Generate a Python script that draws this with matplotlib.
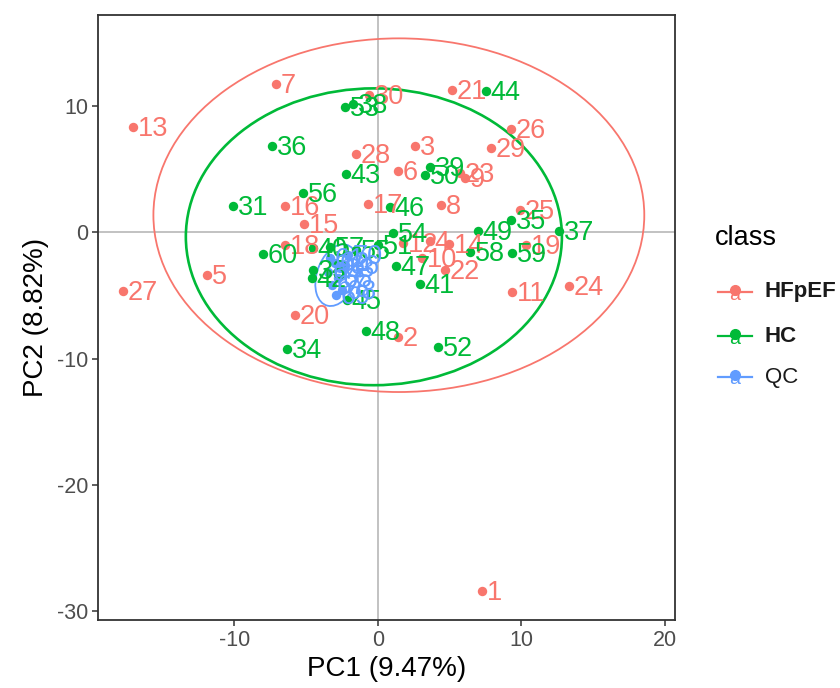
import matplotlib
matplotlib.use("Agg")
import matplotlib.pyplot as plt
from matplotlib.patches import Ellipse
from matplotlib.lines import Line2D

plt.rcParams['font.family'] = ['Liberation Sans', 'DejaVu Sans']
plt.rcParams['axes.unicode_minus'] = False

# ---------------- data ----------------
hfpef_ids = [1, 2, 3, 4, 5, 6, 7, 8, 9, 10, 11, 12, 13, 14, 15, 16, 17, 18, 19, 20,
             21, 22, 23, 24, 25, 26, 27, 28, 29, 30]
hfpef_pc1 = [7.25, 1.39, 2.58, 3.62, -11.92, 1.39, -7.11, 4.39, 6.06, 3.07, 9.34, 1.74,
             -17.07, 4.95, -5.16, -6.48, -0.70, -6.48, 10.31, -5.78, 5.16, 4.67, 5.71,
             13.31, 9.90, 9.27, -17.77, -1.53, 7.87, -0.63]
hfpef_pc2 = [-28.42, -8.31, 6.81, -0.71, -3.40, 4.83, 11.72, 2.14, 4.28, -2.06, -4.75, -0.87,
             8.31, -0.95, 0.63, 2.06, 2.22, -1.03, -1.03, -6.57, 11.24, -3.01, 4.67,
             -4.28, 1.74, 8.16, -4.67, 6.18, 6.65, 10.85]

hc_ids = [31, 33, 34, 35, 36, 37, 38, 39, 40, 41, 42, 43, 44, 45, 46, 47, 48, 49, 50,
          51, 52, 53, 54, 55, 56, 57, 58, 59, 60]
hc_pc1 = [-10.10, -4.53, -6.34, 9.27, -7.39, 12.61, -1.74, 3.62, -4.53, 2.93, -4.60, -2.23,
          7.53, -2.16, 0.84, 1.25, -0.84, 6.97, 3.28, 0.00, 4.18, -2.30, 1.05, -1.53,
          -5.23, -3.34, 6.41, 9.34, -8.01]
hc_pc2 = [2.06, -3.01, -9.26, 0.95, 6.81, 0.08, 10.13, 5.15, -1.27, -4.12, -3.64, 4.59,
          11.16, -5.38, 1.98, -2.69, -7.84, 0.08, 4.51, -1.03, -9.11, 9.90, -0.08, -1.43,
          3.09, -1.19, -1.58, -1.66, -1.74]

qc_ids = [61, 62, 63, 64, 65, 66, 67, 68, 69, 70]
qc_pc1 = [-3.34, -3.00, -2.65, -3.48, -2.79, -2.30, -3.20, -2.50, -2.93, -2.09]
qc_pc2 = [-2.06, -2.40, -2.85, -3.17, -3.64, -2.61, -4.20, -4.60, -4.99, -1.82]

# confidence ellipses: centre x, centre y, full width, full height, angle
ell_hfpef = [1.46, 1.35, 34.2, 28.0, 0]
ell_hc = [-0.28, -0.36, 26.2, 23.5, 0]
ell_qc = [-2.86, -3.4, 2.8, 5.0, -15]

class_names = ['HFpEF', 'HC', 'QC']
colors = ['#F8766D', '#00BA38', '#619CFF']

# ---------------- figure ----------------
W, H = 840, 688
fig = plt.figure(figsize=(W / 100, H / 100), dpi=100)
ax = fig.add_axes([98 / W, 1 - 620 / H, (675 - 98) / W, (620 - 15) / H])

ax.axhline(0, color='#BDBDBD', lw=1.3, zorder=0)
ax.axvline(0, color='#BDBDBD', lw=1.3, zorder=0)

groups = [(hfpef_ids, hfpef_pc1, hfpef_pc2, ell_hfpef),
          (hc_ids, hc_pc1, hc_pc2, ell_hc),
          (qc_ids, qc_pc1, qc_pc2, ell_qc)]
ell_lw = [1.3, 1.9, 1.3]

for (ids, xs, ys, el), col, lw in zip(groups, colors, ell_lw):
    ax.add_patch(Ellipse((el[0], el[1]), el[2], el[3], angle=el[4],
                         fill=False, edgecolor=col, lw=lw, zorder=2))
    ax.scatter(xs, ys, s=46, color=col, zorder=3, linewidths=0)
    for i, x, y in zip(ids, xs, ys):
        ax.annotate(str(i), (x, y), xytext=(3.5, -1), textcoords='offset points',
                    ha='left', va='center', fontsize=19.5, color=col, zorder=4)

ax.set_xlim(-19.5, 20.7)
ax.set_ylim(-30.7, 17.2)
ax.set_xticks([-10, 0, 10, 20])
ax.set_yticks([-30, -20, -10, 0, 10])
ax.tick_params(axis='both', direction='out', length=4, width=1.1, color='#333333',
               labelsize=15.5, labelcolor='#4D4D4D', pad=3)
for sp in ax.spines.values():
    sp.set_color('#333333')
    sp.set_linewidth(1.3)

ax.set_xlabel('PC1 (9.47%)', fontsize=20, labelpad=4)
ax.set_ylabel('PC2 (8.82%)', fontsize=20, labelpad=6)

# ---------------- legend ----------------
def fx(px):
    return px / W

def fy(py):
    return 1 - py / H

fig.text(fx(715), fy(238), 'class', fontsize=19.5, ha='left', va='center')
leg_y = [292, 336, 377]
leg_w = ['bold', 'bold', 'normal']
for name, col, yy, wt in zip(class_names, colors, leg_y, leg_w):
    fig.add_artist(Line2D([fx(718), fx(752)], [fy(yy), fy(yy)], color=col, lw=1.6,
                          transform=fig.transFigure))
    fig.add_artist(Line2D([fx(735)], [fy(yy - 2)], color=col, marker='o', markersize=7,
                          lw=0, transform=fig.transFigure))
    fig.text(fx(735), fy(yy + 3), 'a', color=col, fontsize=14, ha='center', va='center')
    fig.text(fx(765), fy(yy), name, fontsize=16, fontweight=wt, color='#1A1A1A',
             ha='left', va='center')

fig.savefig('out.png', dpi=100, facecolor='white')
